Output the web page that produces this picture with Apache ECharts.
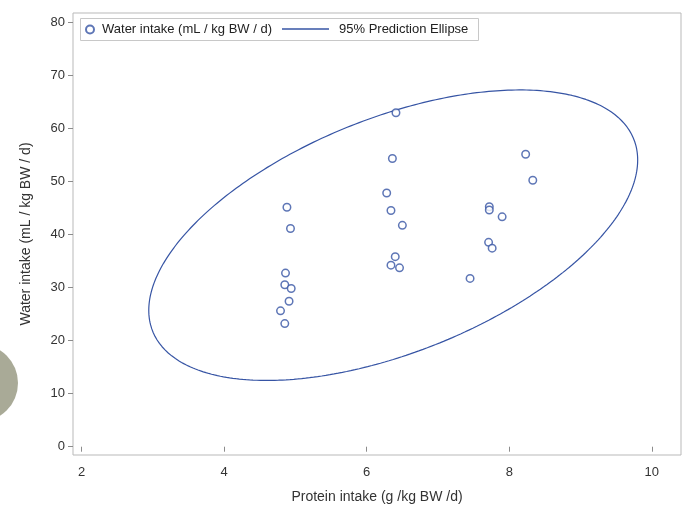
<!DOCTYPE html>
<html>
<head>
<meta charset="utf-8">
<script src="https://cdn.jsdelivr.net/npm/echarts@6/dist/echarts.min.js"></script>
<style>
html,body{margin:0;padding:0;background:#fff;}
#chart{width:683px;height:506px;}
</style>
</head>
<body>
<div id="chart"></div>
<script>
const proteinIntake = [6.41, 6.36, 6.28, 6.34, 6.50, 6.40, 6.34, 6.46,
                       4.88, 4.93, 4.86, 4.85, 4.94, 4.91, 4.79, 4.85,
                       8.23, 8.33, 7.72, 7.72, 7.90, 7.71, 7.76, 7.45];
const waterIntake   = [62.9, 54.3, 47.8, 44.5, 41.7, 35.8, 34.2, 33.7,
                       45.1, 41.1, 32.7, 30.5, 29.8, 27.4, 25.6, 23.2,
                       55.1, 50.2, 45.2, 44.6, 43.3, 38.5, 37.4, 31.7];
const xTicks = [2, 4, 6, 8, 10];
const yTicks = [0, 10, 20, 30, 40, 50, 60, 70, 80];
const F_95_2_22 = 3.4434; // F quantile used for the 95% prediction ellipse

const scatterData = proteinIntake.map((x, i) => [x, waterIntake[i]]);

// 95% prediction ellipse from the sample mean and covariance
function predictionEllipse(xs, ys, F) {
  const n = xs.length;
  const mx = xs.reduce((a, b) => a + b, 0) / n;
  const my = ys.reduce((a, b) => a + b, 0) / n;
  let sxx = 0, syy = 0, sxy = 0;
  for (let i = 0; i < n; i++) {
    const dx = xs[i] - mx, dy = ys[i] - my;
    sxx += dx * dx; syy += dy * dy; sxy += dx * dy;
  }
  sxx /= (n - 1); syy /= (n - 1); sxy /= (n - 1);
  const c = 2 * (n - 1) * (n + 1) / (n * (n - 2)) * F;
  const k = Math.sqrt(c);
  const l11 = Math.sqrt(sxx);
  const l21 = sxy / l11;
  const l22 = Math.sqrt(syy - l21 * l21);
  const pts = [];
  const steps = 360;
  for (let j = 0; j <= steps; j++) {
    const t = 2 * Math.PI * j / steps;
    const ct = Math.cos(t), st = Math.sin(t);
    pts.push([mx + k * l11 * ct, my + k * (l21 * ct + l22 * st)]);
  }
  return pts;
}
const ellipseData = predictionEllipse(proteinIntake, waterIntake, F_95_2_22);

const blue = '#3654a4';
const textColor = '#333333';
const frameColor = '#b9b9b9';
const font = 'Liberation Sans, Arial, sans-serif';

const chart = echarts.init(document.getElementById('chart'), null, {renderer: 'canvas'});
chart.setOption({
  animation: false,
  backgroundColor: '#ffffff',
  grid: {left: 73, top: 13, right: 2, bottom: 51, show: true, borderColor: frameColor, borderWidth: 1, backgroundColor: 'transparent'},
  xAxis: {
    type: 'value', min: 1.878, max: 10.41,
    axisLine: {show: false},
    splitLine: {show: false},
    axisTick: {show: true, length: 5, lineStyle: {color: '#8c8c8c'}, customValues: xTicks},
    axisLabel: {color: textColor, fontSize: 13, fontFamily: font, margin: 11, customValues: xTicks}
  },
  yAxis: {
    type: 'value', min: -1.56, max: 81.7,
    axisLine: {show: false},
    splitLine: {show: false},
    axisTick: {show: true, length: 5, lineStyle: {color: '#8c8c8c'}, customValues: yTicks},
    axisLabel: {color: textColor, fontSize: 13, fontFamily: font, margin: 8, customValues: yTicks}
  },
  legend: [
    {
      left: 85, top: 23, itemWidth: 8, itemHeight: 8, padding: 0,
      data: [{name: 'Water intake (mL / kg BW / d)', icon: 'circle'}],
      textStyle: {color: '#222', fontSize: 13, fontFamily: font, padding: [0, 0, 0, 3]},
      selectedMode: false
    },
    {
      left: 282, top: 22.5, itemWidth: 47, itemHeight: 1.3, padding: 0,
      data: [{name: '95% Prediction Ellipse', icon: 'rect'}],
      textStyle: {color: '#222', fontSize: 13, fontFamily: font, padding: [0, 0, 0, 5]},
      selectedMode: false
    }
  ],
  graphic: [
    {type: 'circle', shape: {cx: -21, cy: 383, r: 39}, style: {fill: '#a9aa97'}, z: -1, silent: true},
    {type: 'rect', shape: {x: 80.5, y: 18.5, width: 398, height: 22}, style: {fill: 'none', stroke: '#c8c8c8', lineWidth: 1}, silent: true, z: 5},
    {type: 'text', x: 26, y: 234, rotation: Math.PI / 2,
     style: {text: 'Water intake (mL / kg BW / d)', fill: textColor, font: '14px ' + font, textAlign: 'center', textVerticalAlign: 'middle'}, silent: true},
    {type: 'text', x: 377, y: 497,
     style: {text: 'Protein intake (g /kg BW /d)', fill: textColor, font: '14px ' + font, textAlign: 'center', textVerticalAlign: 'middle'}, silent: true}
  ],
  series: [
    {
      name: 'Water intake (mL / kg BW / d)',
      type: 'scatter',
      data: scatterData,
      symbol: 'circle',
      symbolSize: 7.5,
      itemStyle: {color: '#ffffff', borderColor: blue, borderWidth: 1.5},
      z: 3
    },
    {
      name: '95% Prediction Ellipse',
      type: 'line',
      data: ellipseData,
      showSymbol: false,
      symbol: 'none',
      smooth: false,
      lineStyle: {color: blue, width: 1.2},
      itemStyle: {color: blue},
      z: 2
    }
  ]
});
</script>
</body>
</html>
